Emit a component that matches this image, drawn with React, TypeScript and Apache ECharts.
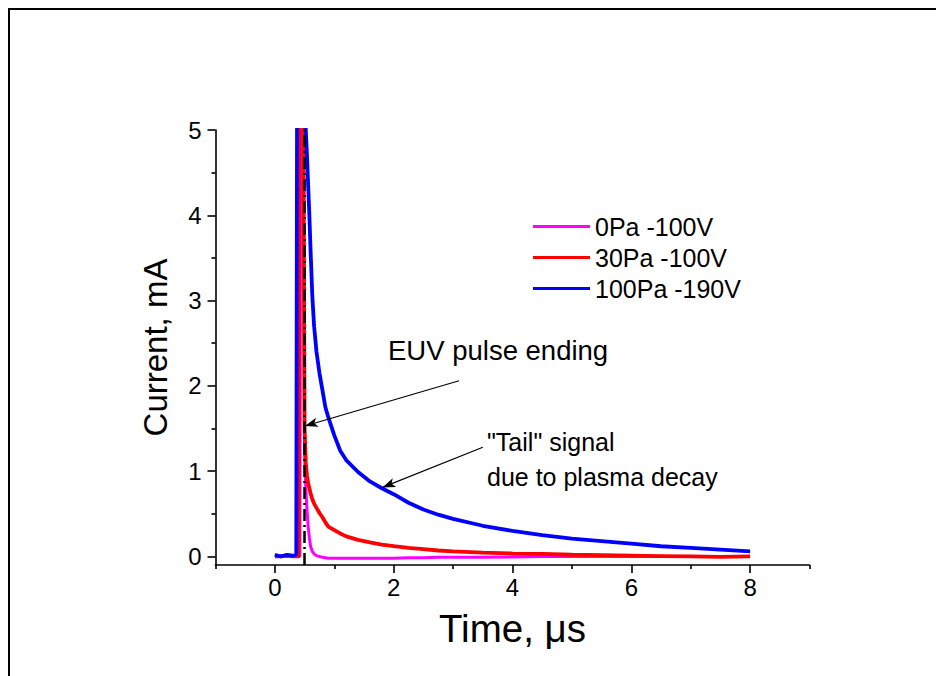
import React, { useEffect, useRef } from "react";
import * as echarts from "echarts";

// ---- data ----
const time = [
  0, 0.1, 0.2, 0.3, 0.36, 0.38, 0.4, 0.42, 0.44, 0.47, 0.49, 0.5, 0.52, 0.54, 0.56, 0.58, 0.6,
  0.63, 0.66, 0.7, 0.75, 0.8, 0.85, 0.9, 1.0, 1.1, 1.2, 1.4, 1.6, 1.8, 2.0, 2.25, 2.5, 2.75, 3.0,
  3.5, 4.0, 4.5, 5.0, 5.5, 6.0, 6.5, 7.0, 7.5, 8.0,
];
const pa0 = [
  0.0, 0.01, 0.0, 0.01, 0.0, 0.0, 0.0, 0.0, 8, 8, 2.5, 1.2, 0.8, 0.55, 0.35, 0.22, 0.12,
  0.06, 0.03, 0.01, 0.0, -0.01, -0.015, -0.02, -0.02, -0.02, -0.02, -0.02, -0.02, -0.02, -0.02, -0.015, -0.015, -0.01, -0.01,
  -0.01, -0.005, 0.0, 0.0, 0.0, 0.0, 0.0, 0.0, 0.0, 0.0,
];
const pa30 = [
  0.0, 0.0, 0.01, 0.0, 0.0, 0.0, 0.0, 8, 8, 8, 3.2, 1.5, 1.1, 0.95, 0.86, 0.8, 0.74,
  0.67, 0.62, 0.57, 0.51, 0.46, 0.4, 0.35, 0.31, 0.27, 0.235, 0.195, 0.165, 0.14, 0.12, 0.1, 0.085, 0.07, 0.06,
  0.045, 0.035, 0.03, 0.02, 0.015, 0.01, 0.005, 0.0, -0.005, 0.0,
];
const pa100 = [
  0.02, 0.0, 0.02, 0.01, 0.02, 8, 8, 8, 8, 8, 5.6, 5.3, 5.0, 4.7, 4.35, 4.0, 3.6,
  3.05, 2.7, 2.4, 2.15, 1.95, 1.75, 1.63, 1.42, 1.24, 1.13, 0.99, 0.88, 0.8, 0.73, 0.63, 0.55, 0.49, 0.44,
  0.36, 0.3, 0.25, 0.21, 0.18, 0.15, 0.12, 0.1, 0.08, 0.06,
];
const seriesNames = ["0Pa -100V", "30Pa -100V", "100Pa -190V"];
const seriesValues = [pa0, pa30, pa100];
const seriesColors = ["#FF00FF", "#FF0000", "#0000FF"];
const xMajorTicks = [0, 2, 4, 6, 8];
const xMinorTicks = [-1, 1, 3, 5, 7, 9];
const yMajorTicks = [0, 1, 2, 3, 4, 5];
const yMinorTicks = [0.5, 1.5, 2.5, 3.5, 4.5];
const pulseEndTime = 0.5;
const arrowEuv = [[3.1, 2.06], [0.505, 1.53]];
const arrowTail = [[3.5, 1.28], [1.81, 0.81]];

const FONT = "'Liberation Sans', Arial, Helvetica, sans-serif";

export default function App() {
  const ref = useRef<HTMLDivElement>(null);
  useEffect(() => {
    if (!ref.current) return;
    const chart = echarts.init(ref.current, null, { renderer: "svg" });
    const axisLineStyle = { color: "#000", width: 1.6 };
    const series: any[] = seriesNames.map((name, si) => ({
      type: "line",
      name,
      data: time.map((t, i) => [t, seriesValues[si][i]]),
      showSymbol: false,
      symbol: "none",
      clip: true,
      z: 2 + si,
      lineStyle: { color: seriesColors[si], width: si === 0 ? 3 : 3.8 },
      itemStyle: { color: seriesColors[si] },
    }));
    series.push({
      type: "line",
      name: "annotations",
      data: [],
      z: 10,
      silent: true,
      markLine: {
        silent: true,
        animation: false,
        symbol: ["none", "none"],
        label: { show: false },
        lineStyle: { color: "#000", width: 2.5, type: [12, 4, 2, 4] },
        data: [{ xAxis: pulseEndTime }],
      },
    });
    series.push({
      type: "line",
      name: "arrows",
      data: [],
      z: 10,
      silent: true,
      markLine: {
        silent: true,
        animation: false,
        symbol: ["none", "arrow"],
        symbolSize: [7, 13],
        label: { show: false },
        lineStyle: { color: "#000", width: 1.2, type: "solid" },
        itemStyle: { color: "#000" },
        data: [
          [{ coord: arrowEuv[0] }, { coord: arrowEuv[1] }],
          [{ coord: arrowTail[0] }, { coord: arrowTail[1] }],
        ],
      },
    });

    chart.setOption({
      animation: false,
      backgroundColor: "#fff",
      textStyle: { fontFamily: FONT },
      grid: { left: 215.5, top: 130, width: 594, height: 435, outerBoundsMode: "none" },
      legend: {
        data: seriesNames,
        orient: "vertical",
        left: 528,
        top: 209,
        icon: "rect",
        itemWidth: 57,
        itemHeight: 3,
        itemGap: 6,
        textStyle: { fontSize: 25, color: "#000", fontFamily: FONT },
      },
      xAxis: [
        {
          type: "value",
          min: -1,
          max: 9,
          position: "bottom",
          name: "Time, \u03bcs",
          nameLocation: "middle",
          nameGap: 44,
          nameTextStyle: { fontSize: 38.5, color: "#000", fontFamily: FONT },
          axisLine: { show: true, onZero: false, lineStyle: axisLineStyle },
          axisTick: { show: true, inside: false, length: 8, customValues: xMajorTicks, lineStyle: axisLineStyle },
          axisLabel: { show: true, customValues: xMajorTicks, fontSize: 24, color: "#000", margin: 10, fontFamily: FONT },
          splitLine: { show: false },
        },
        {
          type: "value",
          min: -1,
          max: 9,
          position: "bottom",
          axisLine: { show: false, onZero: false },
          axisTick: { show: true, inside: false, length: 4, customValues: xMinorTicks, lineStyle: axisLineStyle },
          axisLabel: { show: false },
          splitLine: { show: false },
        },
      ],
      yAxis: [
        {
          type: "value",
          min: -0.1,
          max: 5,
          position: "left",
          name: "Current, mA",
          nameLocation: "middle",
          nameGap: 44,
          nameTextStyle: { fontSize: 33, color: "#000", fontFamily: FONT },
          axisLine: { show: true, onZero: false, lineStyle: axisLineStyle },
          axisTick: { show: true, inside: false, length: 8, customValues: yMajorTicks, lineStyle: axisLineStyle },
          axisLabel: { show: true, customValues: yMajorTicks, fontSize: 24, color: "#000", margin: 14, fontFamily: FONT },
          splitLine: { show: false },
        },
        {
          type: "value",
          min: -0.1,
          max: 5,
          position: "left",
          axisLine: { show: false, onZero: false },
          axisTick: { show: true, inside: false, length: 4, customValues: yMinorTicks, lineStyle: axisLineStyle },
          axisLabel: { show: false },
          splitLine: { show: false },
        },
      ],
      series,
      graphic: [
        {
          type: "rect",
          silent: true,
          shape: { x: 9, y: 9, width: 1000, height: 1000 },
          style: { fill: "none", stroke: "#000", lineWidth: 2 },
        },
        {
          type: "text",
          x: 388,
          y: 350,
          style: { text: "EUV pulse ending", fontSize: 27.5, fontFamily: FONT, fill: "#000", align: "left", verticalAlign: "middle" },
        },
        {
          type: "text",
          x: 487,
          y: 442,
          style: { text: "\"Tail\" signal", fontSize: 25, fontFamily: FONT, fill: "#000", align: "left", verticalAlign: "middle" },
        },
        {
          type: "text",
          x: 487,
          y: 477,
          style: { text: "due to plasma decay", fontSize: 25, fontFamily: FONT, fill: "#000", align: "left", verticalAlign: "middle" },
        },
      ],
    });
    return () => chart.dispose();
  }, []);
  return (
    <div
      ref={ref}
      style={{ position: "fixed", left: 0, top: 0, width: 936, height: 676, background: "#fff" }}
    />
  );
}
